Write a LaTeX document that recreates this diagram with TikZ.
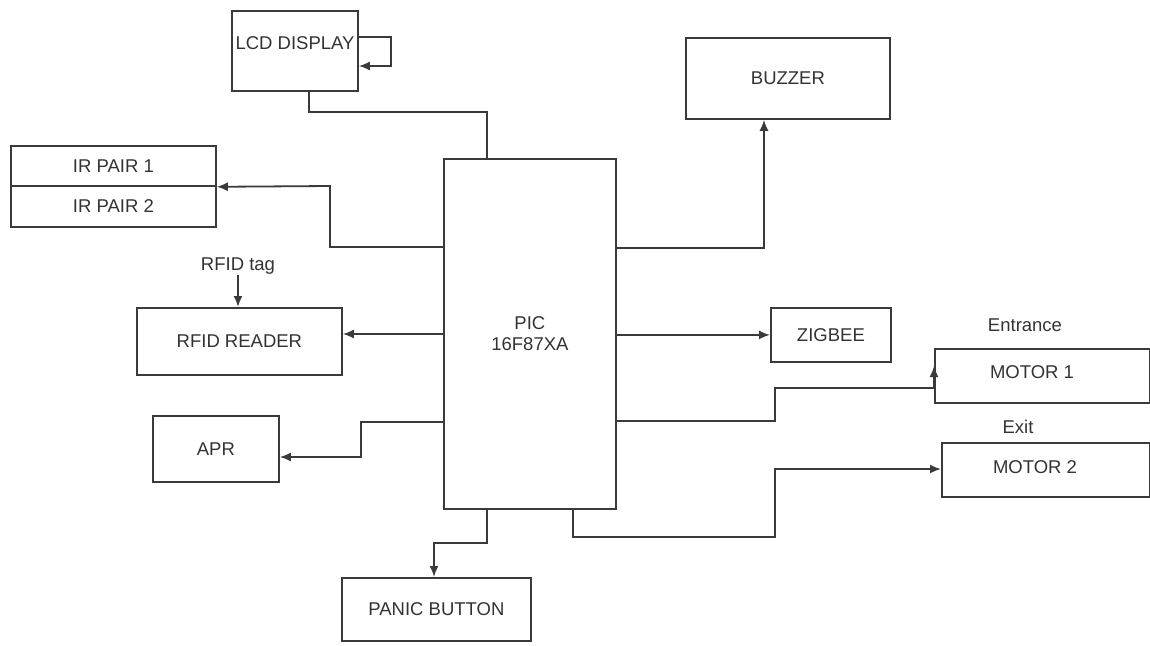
\documentclass[tikz,border=0pt]{standalone}
\usepackage{fontspec}
\setmainfont{Liberation Sans}
\usetikzlibrary{arrows.meta,calc}
\definecolor{linec}{HTML}{3A3A3A}
\definecolor{txtc}{HTML}{333333}
\begin{document}
\begin{tikzpicture}[x=1pt,y=-1pt,
  box/.style={draw=linec, line width=1.8pt, rectangle, anchor=north west, inner sep=0pt, text=txtc, font=\fontsize{18.5}{21}\selectfont, align=center},
  lbl/.style={text=txtc, font=\fontsize{18.5}{21}\selectfont, inner sep=1pt},
  ln/.style={draw=linec, line width=1.8pt},
  arr/.style={draw=linec, line width=1.8pt, -{Latex[length=11pt,width=9pt]}}]
\useasboundingbox[fill=white] (0,0) rectangle (1150,645);

% boxes
\node[box, minimum width=126pt, minimum height=80pt] (lcd) at (231,10) {};
\node[lbl] (lcdt) at (295,43) {LCD DISPLAY};
\node[box, minimum width=205pt, minimum height=40pt] (ir1) at (10,145) {IR PAIR 1};
\node[box, minimum width=205pt, minimum height=41pt] (ir2) at (10,185) {IR PAIR 2};
\node[box, minimum width=204pt, minimum height=81pt] (buz) at (685,37) {BUZZER};
\node[box, minimum width=172pt, minimum height=350pt] (pic) at (443,158) {PIC\\16F87XA};
\node[box, minimum width=205pt, minimum height=67pt] (rfid) at (136,307) {RFID READER};
\node[box, minimum width=126pt, minimum height=66pt] (apr) at (152,415) {APR};
\node[box, minimum width=120pt, minimum height=54pt] (zig) at (770,307) {ZIGBEE};
\node[box, minimum width=215pt, minimum height=54pt] (m1) at (934,348) {};
\node[lbl] (m1t) at (1032,372) {MOTOR 1};
\node[box, minimum width=208pt, minimum height=54pt] (m2) at (941,442) {};
\node[lbl] (m2t) at (1035,467) {MOTOR 2};
\node[box, minimum width=189pt, minimum height=63pt] (panic) at (341,577) {PANIC BUTTON};

% labels
\node[lbl] (tag) at (238,266) {RFID tag};
\node[lbl] (ent) at (1025,325) {Entrance};
\node[lbl] (ext) at (1018,427) {Exit};

% helper coordinates
\coordinate (c1) at (309,112);
\coordinate (c2) at (487,112);
\coordinate (l1) at (391,37);
\coordinate (l2) at (391,66);
\coordinate (i1) at (330,247);
\coordinate (i2) at (330,186);
\coordinate (b1) at (764,248);
\coordinate (r1) at (0,334);
\coordinate (a1) at (361,422);
\coordinate (a2) at (361,457);
\coordinate (n1) at (775,421);
\coordinate (n2) at (775,388);
\coordinate (n4) at (0,366);
\coordinate (k1) at (573,537);
\coordinate (k2) at (775,537);
\coordinate (k3) at (775,469);
\coordinate (p1) at (487,543);
\coordinate (p2) at (434,543);

% connectors
\draw[ln] (lcd.south -| c1) -- (c1) -- (c2) -- (c2 |- pic.north);
\draw[arr] (lcd.east |- l1) -- (l1) -- (l2) -- (lcd.east |- l2);
\draw[arr] (pic.west |- i1) -- (i1) -- (i2) -- (ir1.south east);
\draw[arr] (pic.east |- b1) -- (b1) -- (b1 |- buz.south);
\draw[arr] (pic.west |- r1) -- (rfid.east |- r1);
\draw[arr] (tag.south) -- (tag.south |- rfid.north);
\draw[arr] (pic.west |- a1) -- (a1) -- (a2) -- (apr.east |- a2);
\draw[arr] (pic.east |- zig.west) -- (zig.west);
\draw[arr] (pic.east |- n1) -- (n1) -- (n2) -- (m1.west |- n2) -- (m1.west |- n4);
\draw[arr] (pic.south -| k1) -- (k1) -- (k2) -- (k3) -- (m2.west |- k3);
\draw[arr] (pic.south -| p1) -- (p1) -- (p2) -- (p2 |- panic.north);
\end{tikzpicture}
\end{document}
